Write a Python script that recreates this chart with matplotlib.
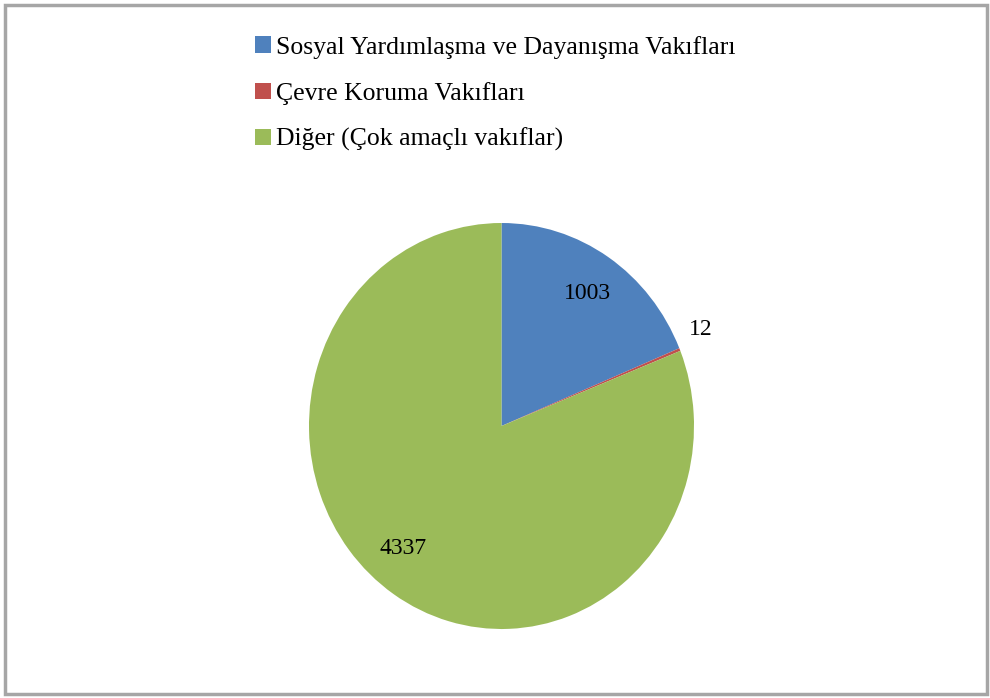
import numpy as np
import matplotlib.pyplot as plt
from matplotlib.patches import Patch, Rectangle

# Data
categories = ["Sosyal Yardımlaşma ve Dayanışma Vakıfları",
              "Çevre Koruma Vakıfları",
              "Diğer (Çok amaçlı vakıflar)"]
values = [1003, 12, 4337]
colors = ["#4F81BD", "#C0504D", "#9BBB59"]

plt.rcParams['font.family'] = ['Liberation Serif', 'DejaVu Serif']

W, H = 990, 698
fig = plt.figure(figsize=(W / 100, H / 100), dpi=100)

# outer gray frame
fig.patches.append(Rectangle((5 / W, 4 / H), (W - 8) / W, (H - 9) / H,
                             transform=fig.transFigure, fill=False,
                             edgecolor="#A6A6A6", linewidth=2.5))

# pie is slightly taller than wide in the reference
ax = fig.add_axes([309 / W, 1 - 629 / H, 385 / W, 406 / H])
total = sum(values)
wedges, texts, autotexts = ax.pie(
    values, colors=colors, startangle=90, counterclock=False,
    autopct=lambda p: f"{round(p * total / 100)}", pctdistance=0.8,
    wedgeprops=dict(linewidth=0), textprops=dict(fontsize=17, color="black"))
ax.set_aspect('auto')
ax.set_xlim(-1, 1)
ax.set_ylim(-1, 1)

# label placement (distance, angle tweak in degrees) like Excel's best fit
placement = [(0.79, -0.5), (1.14, 2.5), (0.79, -6.0)]
for w, t, (r, dang) in zip(wedges, autotexts, placement):
    ang = np.deg2rad((w.theta1 + w.theta2) / 2 + dang)
    t.set_position((r * np.cos(ang), r * np.sin(ang)))

handles = [Patch(facecolor=c, edgecolor='none') for c in colors]
fig.legend(handles, categories, loc='upper left',
           bbox_to_anchor=(242 / W, 1 - 23 / H), frameon=False,
           fontsize=18.5, handlelength=0.62, handleheight=0.62,
           handletextpad=0.2, labelspacing=0.9, borderpad=0)

plt.savefig("out.png", dpi=100)
